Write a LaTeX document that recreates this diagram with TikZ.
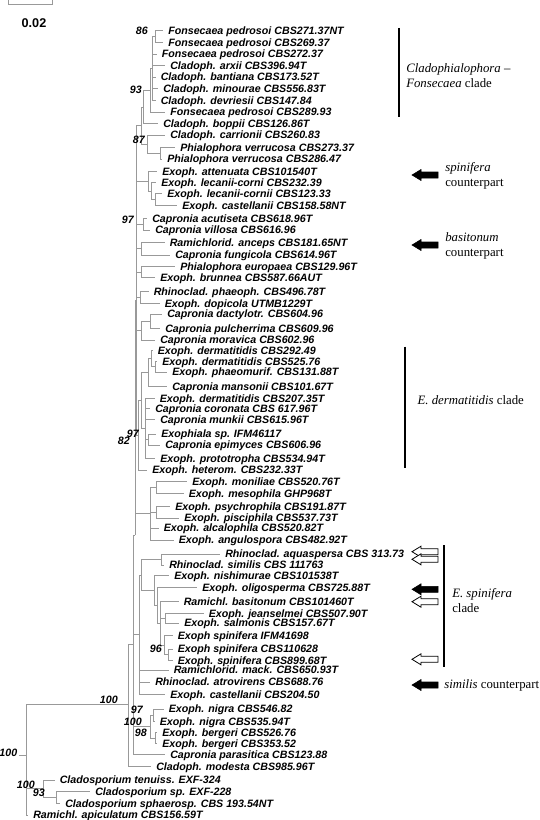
\documentclass[tikz,border=0pt]{standalone}
\usepackage{xcolor}
\usepackage{fontspec}
\setmainfont{Liberation Serif}
\newfontfamily\arialfam{Liberation Sans}
\usepackage{tikz}
\definecolor{treegray}{gray}{0.6}
\newcommand{\taxafont}{\arialfam\bfseries\itshape\fontsize{8}{9}\selectfont}
\newcommand{\bootfont}{\arialfam\bfseries\itshape\fontsize{8}{9}\selectfont}
\newcommand{\notefont}{\fontsize{9.6}{11.25}\selectfont}
\tikzstyle{taxon} = [anchor=west, inner xsep=3.75pt, inner ysep=0pt, text height=5.8pt, text depth=0.2pt, font=\taxafont]
\tikzstyle{boot} = [anchor=east, inner sep=0pt, font=\bootfont]
\tikzstyle{branch} = [draw=treegray, line width=0.55pt]
\tikzstyle{cladebar} = [draw=black, line width=2.1pt]
\tikzstyle{note} = [anchor=west, align=left, inner sep=0pt, font=\notefont]
\tikzstyle{fullmark} = [draw=black, fill=black, line width=0.4pt]
\tikzstyle{openmark} = [draw=black, fill=white, line width=0.6pt]
\tikzset{markshape/.pic={\path [pic actions] (-13,0) -- (-4,-5.5) -- (-4,-3) -- (13,-3) -- (13,3) -- (-4,3) -- (-4,5.5) -- cycle;}}

\begin{document}
\begin{tikzpicture}[x=0.75pt, y=-0.75pt]
	\useasboundingbox (0,0) rectangle (539,820);
	% scale bar
	\draw [branch] (8,0) -- (8,4.5) -- (52,4.5) -- (52,0);
	\node (scale)[inner sep=0pt, font=\arialfam\bfseries\fontsize{9.5}{11}\selectfont] at (34,22.7) {0.02};

	% taxa
	\node (pedrosoi271)[taxon] at (163,30.7) {Fonsecaea pedrosoi CBS271.37NT};
	\node (pedrosoi269)[taxon] at (163,42.3) {Fonsecaea pedrosoi CBS269.37};
	\node (pedrosoi272)[taxon] at (156.5,53.9) {Fonsecaea pedrosoi CBS272.37};
	\node (arxii)[taxon] at (165,65.5) {Cladoph. arxii CBS396.94T};
	\node (bantiana)[taxon] at (155.5,77.1) {Cladoph. bantiana CBS173.52T};
	\node (minourae)[taxon] at (158,88.7) {Cladoph. minourae CBS556.83T};
	\node (devriesii)[taxon] at (155.5,100.3) {Cladoph. devriesii CBS147.84};
	\node (pedrosoi289)[taxon] at (165,111.9) {Fonsecaea pedrosoi CBS289.93};
	\node (boppii)[taxon] at (158,123.5) {Cladoph. boppii CBS126.86T};
	\node (carrionii)[taxon] at (165,135.1) {Cladoph. carrionii CBS260.83};
	\node (verrucosa273)[taxon] at (175,147.3) {Phialophora verrucosa CBS273.37};
	\node (verrucosa286)[taxon] at (162,159) {Phialophora verrucosa CBS286.47};
	\node (attenuata)[taxon] at (157,171.7) {Exoph. attenuata CBS101540T};
	\node (lecanii232)[taxon] at (156,182.7) {Exoph. lecanii-corni CBS232.39};
	\node (lecanii123)[taxon] at (162,193.3) {Exoph. lecanii-cornii CBS123.33};
	\node (castellanii158)[taxon] at (177,205.7) {Exoph. castellanii CBS158.58NT};
	\node (acutiseta)[taxon] at (147,218.3) {Capronia acutiseta CBS618.96T};
	\node (villosa)[taxon] at (150,230) {Capronia villosa CBS616.96};
	\node (anceps)[taxon] at (164.5,242.5) {Ramichlorid. anceps CBS181.65NT};
	\node (fungicola)[taxon] at (170,255) {Capronia fungicola CBS614.96T};
	\node (europaea)[taxon] at (175,266.7) {Phialophora europaea CBS129.96T};
	\node (brunnea)[taxon] at (155,277.3) {Exoph. brunnea CBS587.66AUT};
	\node (phaeoph)[taxon] at (148.5,291.7) {Rhinoclad. phaeoph. CBS496.78T};
	\node (dopicola)[taxon] at (159.5,303.3) {Exoph. dopicola UTMB1229T};
	\node (dactylotr)[taxon] at (162,314) {Capronia dactylotr. CBS604.96};
	\node (pulcherrima)[taxon] at (160,328.3) {Capronia pulcherrima CBS609.96};
	\node (moravica)[taxon] at (155,340) {Capronia moravica CBS602.96};
	\node (derm292)[taxon] at (152.5,350.7) {Exoph. dermatitidis CBS292.49};
	\node (derm525)[taxon] at (157,361.7) {Exoph. dermatitidis CBS525.76};
	\node (phaeomurif)[taxon] at (167,372) {Exoph. phaeomurif. CBS131.88T};
	\node (mansonii)[taxon] at (167,386.7) {Capronia mansonii CBS101.67T};
	\node (derm207)[taxon] at (154.5,398.3) {Exoph. dermatitidis CBS207.35T};
	\node (coronata)[taxon] at (150,408.5) {Capronia coronata CBS 617.96T};
	\node (munkii)[taxon] at (155,419.5) {Capronia munkii CBS615.96T};
	\node (exophialasp)[taxon] at (156,434) {Exophiala sp. IFM46117};
	\node (epimyces)[taxon] at (160,445) {Capronia epimyces CBS606.96};
	\node (prototropha)[taxon] at (155,458.3) {Exoph. prototropha CBS534.94T};
	\node (heterom)[taxon] at (147,470) {Exoph. heterom. CBS232.33T};
	\node (moniliae)[taxon] at (187,481.7) {Exoph. moniliae CBS520.76T};
	\node (mesophila)[taxon] at (183.5,493.3) {Exoph. mesophila GHP968T};
	\node (psychrophila)[taxon] at (170,506.7) {Exoph. psychrophila CBS191.87T};
	\node (pisciphila)[taxon] at (179,518) {Exoph. pisciphila CBS537.73T};
	\node (alcalophila)[taxon] at (158.5,528) {Exoph. alcalophila CBS520.82T};
	\node (angulospora)[taxon] at (173.5,540) {Exoph. angulospora CBS482.92T};
	\node (aquaspersa)[taxon] at (220,554) {Rhinoclad. aquaspersa CBS 313.73};
	\node (similis)[taxon] at (164,565) {Rhinoclad. similis CBS 111763};
	\node (nishimurae)[taxon] at (169,575.5) {Exoph. nishimurae CBS101538T};
	\node (oligosperma)[taxon] at (197,587.5) {Exoph. oligosperma CBS725.88T};
	\node (basitonum)[taxon] at (178.5,601.7) {Ramichl. basitonum CBS101460T};
	\node (jeanselmei)[taxon] at (203.5,613.3) {Exoph. jeanselmei CBS507.90T};
	\node (salmonis)[taxon] at (179,623) {Exoph. salmonis CBS157.67T};
	\node (spiniferaIFM)[taxon] at (172.5,635.5) {Exoph spinifera IFM41698};
	\node (spinifera110)[taxon] at (172.5,649) {Exoph spinifera CBS110628};
	\node (spinifera899)[taxon] at (172.5,660.5) {Exoph. spinifera CBS899.68T};
	\node (mack)[taxon] at (168.5,670) {Ramichlorid. mack. CBS650.93T};
	\node (atrovirens)[taxon] at (150,682) {Rhinoclad. atrovirens CBS688.76};
	\node (castellanii204)[taxon] at (165,694.5) {Exoph. castellanii CBS204.50};
	\node (nigra546)[taxon] at (163.5,709) {Exoph. nigra CBS546.82};
	\node (nigra535)[taxon] at (154.5,721.5) {Exoph. nigra CBS535.94T};
	\node (bergeri526)[taxon] at (157,732.5) {Exoph. bergeri CBS526.76};
	\node (bergeri353)[taxon] at (157,743.5) {Exoph. bergeri CBS353.52};
	\node (parasitica)[taxon] at (165,754.5) {Capronia parasitica CBS123.88};
	\node (modesta)[taxon] at (151,766.5) {Cladoph. modesta CBS985.96T};
	\node (tenuiss)[taxon] at (54.5,780) {Cladosporium tenuiss. EXF-324};
	\node (cladosp)[taxon] at (90,791.7) {Cladosporium sp. EXF-228};
	\node (sphaerosp)[taxon] at (60,803.3) {Cladosporium sphaerosp. CBS 193.54NT};
	\node (apiculatum)[taxon] at (28,815) {Ramichl. apiculatum CBS156.59T};

	% inner nodes
	\coordinate (n86) at (155,36.5);
	\coordinate (nFons) at (152.5,68.4);
	\coordinate (n93) at (150,90.2);
	\coordinate (nBop) at (143.5,106.9);
	\coordinate (nVerr) at (160,153.2);
	\coordinate (n87) at (147,144.2);
	\coordinate (nCla) at (141,125.6);
	\coordinate (nLc) at (155,199.5);
	\coordinate (nLec) at (151.7,191.1);
	\coordinate (nAtt) at (148,181.4);
	\coordinate (nAcu) at (143.3,224.2);
	\coordinate (nAnc) at (141.7,248.7);
	\coordinate (nEur) at (141.7,272);
	\coordinate (nDop) at (140,297.5);
	\coordinate (nPul) at (150,321);
	\coordinate (nMor) at (141,330.5);
	\coordinate (nPhm) at (155,366.8);
	\coordinate (nDer) at (151.7,358.7);
	\coordinate (nMan) at (148,372.7);
	\coordinate (n97b) at (148.3,439.5);
	\coordinate (nCor) at (145,428.3);
	\coordinate (nDerm) at (141,400.5);
	\coordinate (n82) at (138,435.3);
	\coordinate (nMon) at (156.7,487.5);
	\coordinate (nPsy) at (156.7,512.4);
	\coordinate (nAng) at (150,513.8);
	\coordinate (nBack) at (136.7,300);
	\coordinate (nB2) at (135,535);
	\coordinate (nAq) at (161,559.5);
	\coordinate (nJs) at (165,618.2);
	\coordinate (nS1) at (168,654.8);
	\coordinate (n96) at (164,645);
	\coordinate (nBas) at (160,623.4);
	\coordinate (nOl) at (157.5,605.4);
	\coordinate (nNi) at (154,590.5);
	\coordinate (nEsp) at (141.7,575);
	\coordinate (nLow) at (139,634.6);
	\coordinate (n97n) at (153.3,715.3);
	\coordinate (n98) at (155.5,738);
	\coordinate (n100b) at (150,726.7);
	\coordinate (nB1) at (133.3,644.5);
	\coordinate (nIng) at (128.3,704);
	\coordinate (n93c) at (56.7,797.5);
	\coordinate (nClado) at (43.3,788.8);
	\coordinate (nRoot) at (26,755);
	\coordinate (rootstub) at (19,755);

	% branches
	\draw [branch] (rootstub) -- (nRoot);
	\draw [branch] (nRoot) |- (nIng) (nRoot) |- (nClado) (nRoot) |- (apiculatum.west);
	\draw [branch] (nClado) |- (tenuiss.west) (nClado) |- (n93c);
	\draw [branch] (n93c) |- (cladosp.west) (n93c) |- (sphaerosp.west);
	\draw [branch] (nIng) |- (nB1) (nIng) |- (modesta.west);
	\draw [branch] (nB1) |- (nB2) (nB1) |- (nLow) (nB1) |- (n100b) (nB1) |- (parasitica.west);
	\draw [branch] (n100b) |- (n97n) (n100b) |- (n98);
	\draw [branch] (n97n) |- (nigra546.west) (n97n) |- (nigra535.west);
	\draw [branch] (n98) |- (bergeri526.west) (n98) |- (bergeri353.west);
	\draw [branch] (nLow) |- (nEsp) (nLow) |- (mack.west) (nLow) |- (atrovirens.west) (nLow) |- (castellanii204.west);
	\draw [branch] (nEsp) |- (nAq) (nEsp) |- (nNi);
	\draw [branch] (nAq) |- (aquaspersa.west) (nAq) |- (similis.west);
	\draw [branch] (nNi) |- (nishimurae.west) (nNi) |- (nOl);
	\draw [branch] (nOl) |- (oligosperma.west) (nOl) |- (nBas);
	\draw [branch] (nBas) |- (basitonum.west) (nBas) |- (nJs) (nBas) |- (n96);
	\draw [branch] (nJs) |- (jeanselmei.west) (nJs) |- (salmonis.west);
	\draw [branch] (n96) |- (spiniferaIFM.west) (n96) |- (nS1);
	\draw [branch] (nS1) |- (spinifera110.west) (nS1) |- (spinifera899.west);
	\draw [branch] (nB2) |- (nBack) (nB2) |- (nAng);
	\draw [branch] (nAng) |- (nMon) (nAng) |- (nPsy) (nAng) |- (alcalophila.west) (nAng) |- (angulospora.west);
	\draw [branch] (nMon) |- (moniliae.west) (nMon) |- (mesophila.west);
	\draw [branch] (nPsy) |- (psychrophila.west) (nPsy) |- (pisciphila.west);
	\draw [branch] (nBack) |- (nCla) (nBack) |- (nAtt) (nBack) |- (nAcu) (nBack) |- (nAnc) (nBack) |- (nEur) (nBack) |- (nDop) (nBack) |- (nMor) (nBack) |- (n82);
	\draw [branch] (n82) |- (nDerm) (n82) |- (heterom.west);
	\draw [branch] (nDerm) |- (nMan) (nDerm) |- (nCor);
	\draw [branch] (nMan) |- (nDer) (nMan) |- (mansonii.west);
	\draw [branch] (nDer) |- (derm292.west) (nDer) |- (nPhm);
	\draw [branch] (nPhm) |- (derm525.west) (nPhm) |- (phaeomurif.west);
	\draw [branch] (nCor) |- (derm207.west) (nCor) |- (coronata.west) (nCor) |- (munkii.west) (nCor) |- (n97b) (nCor) |- (prototropha.west);
	\draw [branch] (n97b) |- (exophialasp.west) (n97b) |- (epimyces.west);
	\draw [branch] (nMor) |- (nPul) (nMor) |- (moravica.west);
	\draw [branch] (nPul) |- (dactylotr.west) (nPul) |- (pulcherrima.west);
	\draw [branch] (nDop) |- (phaeoph.west) (nDop) |- (dopicola.west);
	\draw [branch] (nEur) |- (europaea.west) (nEur) |- (brunnea.west);
	\draw [branch] (nAnc) |- (anceps.west) (nAnc) |- (fungicola.west);
	\draw [branch] (nAcu) |- (acutiseta.west) (nAcu) |- (villosa.west);
	\draw [branch] (nAtt) |- (attenuata.west) (nAtt) |- (nLec);
	\draw [branch] (nLec) |- (lecanii232.west) (nLec) |- (nLc);
	\draw [branch] (nLc) |- (lecanii123.west) (nLc) |- (castellanii158.west);
	\draw [branch] (nCla) |- (nBop) (nCla) |- (n87);
	\draw [branch] (n87) |- (carrionii.west) (n87) |- (nVerr);
	\draw [branch] (nVerr) |- (verrucosa273.west) (nVerr) |- (verrucosa286.west);
	\draw [branch] (nBop) |- (n93) (nBop) |- (boppii.west);
	\draw [branch] (n93) |- (nFons) (n93) |- (pedrosoi289.west);
	\draw [branch] (nFons) |- (n86) (nFons) |- (pedrosoi272.west) (nFons) |- (arxii.west) (nFons) |- (bantiana.west) (nFons) |- (minourae.west) (nFons) |- (devriesii.west);
	\draw [branch] (n86) |- (pedrosoi271.west) (n86) |- (pedrosoi269.west);

	% bootstrap values
	\node (bs86)[boot] at (148,31) {86};
	\node (bs93)[boot] at (142,89.5) {93};
	\node (bs87)[boot] at (145,139.5) {87};
	\node (bs97)[boot] at (134,220) {97};
	\node (bs82)[boot] at (130,440.5) {82};
	\node (bs97b)[boot] at (139,434) {97};
	\node (bs96)[boot] at (162,649) {96};
	\node (bs100a)[boot] at (118,700) {100};
	\node (bs97c)[boot] at (143,710) {97};
	\node (bs100b)[boot] at (142,722) {100};
	\node (bs98)[boot] at (147,733) {98};
	\node (bs100root)[boot] at (17.5,753) {100};
	\node (bs100c)[boot] at (35,785) {100};
	\node (bs93c)[boot] at (45,793) {93};

	% clades and markers
	\draw [cladebar] (399,28) -- (399,117);
	\node (cladeCF)[note] at (406,76) {\textit{Cladophialophora} --\\\textit{Fonsecaea} clade};
	\draw [cladebar] (405,346.7) -- (405,468.3);
	\node (cladeED)[note] at (417.3,400) {\textit{E. dermatitidis} clade};
	\draw [cladebar] (444,545) -- (444,667);
	\node (cladeES)[note] at (452,600.5) {\textit{E. spinifera}\\clade};

	\pic (arSpin)[fullmark] at (425,175) {markshape};
	\node (noteSpin)[note] at (445,175.8) {\textit{spinifera}\\counterpart};
	\pic (arBasi)[fullmark] at (425,245) {markshape};
	\node (noteBasi)[note] at (445,245.5) {\textit{basitonum}\\counterpart};
	\pic (arAqua)[openmark] at (425,551.7) {markshape};
	\pic (arSimi)[openmark] at (425,559.3) {markshape};
	\pic (arOligo)[fullmark] at (425,589.3) {markshape};
	\pic (arBasit)[openmark] at (425,601.7) {markshape};
	\pic (arSpin899)[openmark] at (425,659.3) {markshape};
	\pic (arSimil)[fullmark] at (425,685) {markshape};
	\node (noteSimil)[note] at (444,685) {\textit{similis} counterpart};
\end{tikzpicture}
\end{document}
